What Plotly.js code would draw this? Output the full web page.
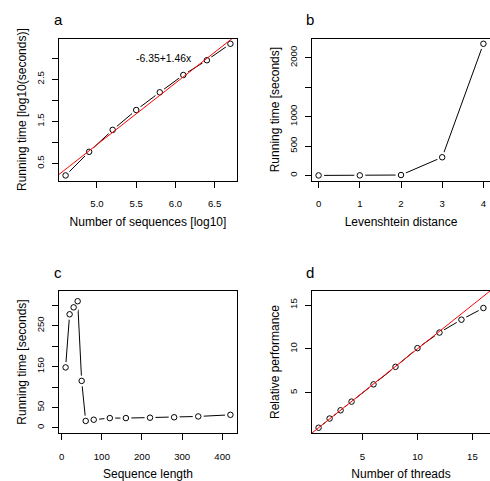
<!DOCTYPE html>
<html>
<head>
<meta charset="utf-8">
<script src="https://cdn.plot.ly/plotly-3.0.1.min.js"></script>
<style>html,body{margin:0;padding:0;background:#fff;}#chart{width:490px;height:481px;}</style>
</head>
<body>
<div id="chart"></div>
<script>
// ---- data ----
const a_x = [4.6, 4.9, 5.2, 5.5, 5.8, 6.1, 6.4, 6.7];          // log10 number of sequences
const a_y = [0.22, 0.78, 1.30, 1.77, 2.19, 2.60, 2.95, 3.34];  // log10 seconds
const a_fit = [-6.35, 1.46];                                    // intercept, slope
const a_fitLabel = "-6.35+1.46x";

const b_x = [0, 1, 2, 3, 4];                                    // Levenshtein distance
const b_y = [1, 2, 8, 310, 2240];                               // seconds

const c_x = [10, 20, 30, 40, 50, 60, 80, 120, 160, 220, 280, 340, 420]; // sequence length
const c_y = [148, 278, 295, 310, 115, 17, 20, 24, 24, 25, 26, 28, 32];  // seconds

const d_x = [1, 2, 3, 4, 6, 8, 10, 12, 14, 16];                 // threads
const d_y = [1, 2.05, 2.99, 3.98, 5.95, 7.95, 10.08, 11.86, 13.33, 14.66]; // relative perf

const a_xticks = [5, 5.5, 6, 6.5], a_xtext = ["5.0", "5.5", "6.0", "6.5"];
const a_yticks = [0.5, 1, 1.5, 2, 2.5, 3], a_ytext = ["0.5", "", "1.5", "", "2.5", ""];
const b_xticks = [0, 1, 2, 3, 4], b_xtext = ["0", "1", "2", "3", "4"];
const b_yticks = [0, 500, 1000, 1500, 2000], b_ytext = ["0", "500", "1000", "", "2000"];
const c_xticks = [0, 100, 200, 300, 400], c_xtext = ["0", "100", "200", "300", "400"];
const c_yticks = [0, 50, 100, 150, 200, 250, 300], c_ytext = ["0", "50", "", "150", "", "250", ""];
const d_xticks = [5, 10, 15], d_xtext = ["5", "10", "15"];
const d_yticks = [5, 10, 15], d_ytext = ["5", "10", "15"];

// ---- helpers ----
function pad(arr) {
  const mn = Math.min(...arr), mx = Math.max(...arr), r = mx - mn;
  return [mn - 0.04 * r, mx + 0.04 * r];
}
const FONT = "Liberation Sans, Arial, Helvetica, sans-serif";

function series(x, y, xa, ya) {
  return [
    {x: x, y: y, xaxis: xa, yaxis: ya, type: "scatter", mode: "lines",
     line: {color: "#000", width: 1}, hoverinfo: "skip", showlegend: false},
    {x: x, y: y, xaxis: xa, yaxis: ya, type: "scatter", mode: "markers",
     marker: {symbol: "circle", size: 11, color: "#fff", line: {width: 0}},
     hoverinfo: "skip", showlegend: false, cliponaxis: false},
    {x: x, y: y, xaxis: xa, yaxis: ya, type: "scatter", mode: "markers",
     marker: {symbol: "circle-open", size: 5.5, color: "#000", line: {width: 1, color: "#000"}},
     showlegend: false, cliponaxis: false}
  ];
}

const a_xr = pad(a_x), a_yr = pad(a_y);
const b_xr = pad(b_x), b_yr = pad(b_y);
const c_xr = pad(c_x), c_yr = [-12.5, 335];
const d_xr = [0.4, 16.6], d_yr = [0.4, 16.6];

const traces = [].concat(
  series(a_x, a_y, "x", "y"),
  [{x: a_xr, y: a_xr.map(v => a_fit[0] + a_fit[1] * v), xaxis: "x", yaxis: "y",
    type: "scatter", mode: "lines", line: {color: "#ff0000", width: 1}, showlegend: false, hoverinfo: "skip"}],
  series(b_x, b_y, "x2", "y2"),
  series(c_x, c_y, "x3", "y3"),
  series(d_x, d_y, "x4", "y4"),
  [{x: d_xr, y: d_xr, xaxis: "x4", yaxis: "y4",
    type: "scatter", mode: "lines", line: {color: "#ff0000", width: 1}, showlegend: false, hoverinfo: "skip"}]
);

function ax(domain, range, tv, tt, title, isY, anchor) {
  const o = {
    domain: domain, range: range, tickmode: "array", tickvals: tv, ticktext: tt,
    showline: true, mirror: true, linecolor: "#000", linewidth: 1,
    ticks: "outside", ticklen: 6, tickwidth: 1, tickcolor: "#000",
    showgrid: false, zeroline: false, anchor: anchor, automargin: false,
    tickfont: {family: FONT, size: 9.6, color: "#000"},
    title: {text: title, font: {family: FONT, size: 12, color: "#000"}, standoff: isY ? 5 : 9}
  };
  if (isY) { o.tickangle = -90; o.ticklabelstandoff = 4; }
  else { o.ticklabelstandoff = 8; }
  return o;
}

const LX = [59 / 490, 237 / 490], RX = [312 / 490, 1];
const TY = [1 - 180.7 / 481, 1 - 38.5 / 481], BY = [1 - 433 / 481, 1 - 291 / 481];

const layout = {
  width: 490, height: 481, margin: {l: 0, r: 0, t: 0, b: 0},
  paper_bgcolor: "#fff", plot_bgcolor: "#fff", showlegend: false,
  font: {family: FONT, color: "#000"},
  xaxis:  ax(LX, a_xr, a_xticks, a_xtext, "Number of sequences [log10]", false, "y"),
  yaxis:  ax(TY, a_yr, a_yticks, a_ytext, "Running time [log10(seconds)]", true, "x"),
  xaxis2: ax(RX, b_xr, b_xticks, b_xtext, "Levenshtein distance", false, "y2"),
  yaxis2: ax(TY, b_yr, b_yticks, b_ytext, "Running time [seconds]", true, "x2"),
  xaxis3: ax(LX, c_xr, c_xticks, c_xtext, "Sequence length", false, "y3"),
  yaxis3: ax(BY, c_yr, c_yticks, c_ytext, "Running time [seconds]", true, "x3"),
  xaxis4: ax(RX, d_xr, d_xticks, d_xtext, "Number of threads", false, "y4"),
  yaxis4: ax(BY, d_yr, d_yticks, d_ytext, "Relative performance", true, "x4"),
  annotations: [
    {text: "a", xref: "paper", yref: "paper", x: 52 / 490, y: 1 - 19 / 481, xanchor: "left", yanchor: "middle", showarrow: false, font: {family: FONT, size: 15, color: "#000"}},
    {text: "b", xref: "paper", yref: "paper", x: 304 / 490, y: 1 - 19 / 481, xanchor: "left", yanchor: "middle", showarrow: false, font: {family: FONT, size: 15, color: "#000"}},
    {text: "c", xref: "paper", yref: "paper", x: 52 / 490, y: 1 - 272 / 481, xanchor: "left", yanchor: "middle", showarrow: false, font: {family: FONT, size: 15, color: "#000"}},
    {text: "d", xref: "paper", yref: "paper", x: 304 / 490, y: 1 - 272 / 481, xanchor: "left", yanchor: "middle", showarrow: false, font: {family: FONT, size: 15, color: "#000"}},
    {text: a_fitLabel, xref: "x", yref: "y", x: 5.85, y: 2.98, xanchor: "center", yanchor: "middle", showarrow: false, font: {family: FONT, size: 10.4, color: "#000"}}
  ]
};

Plotly.newPlot("chart", traces, layout, {staticPlot: true, displayModeBar: false});
</script>
</body>
</html>
